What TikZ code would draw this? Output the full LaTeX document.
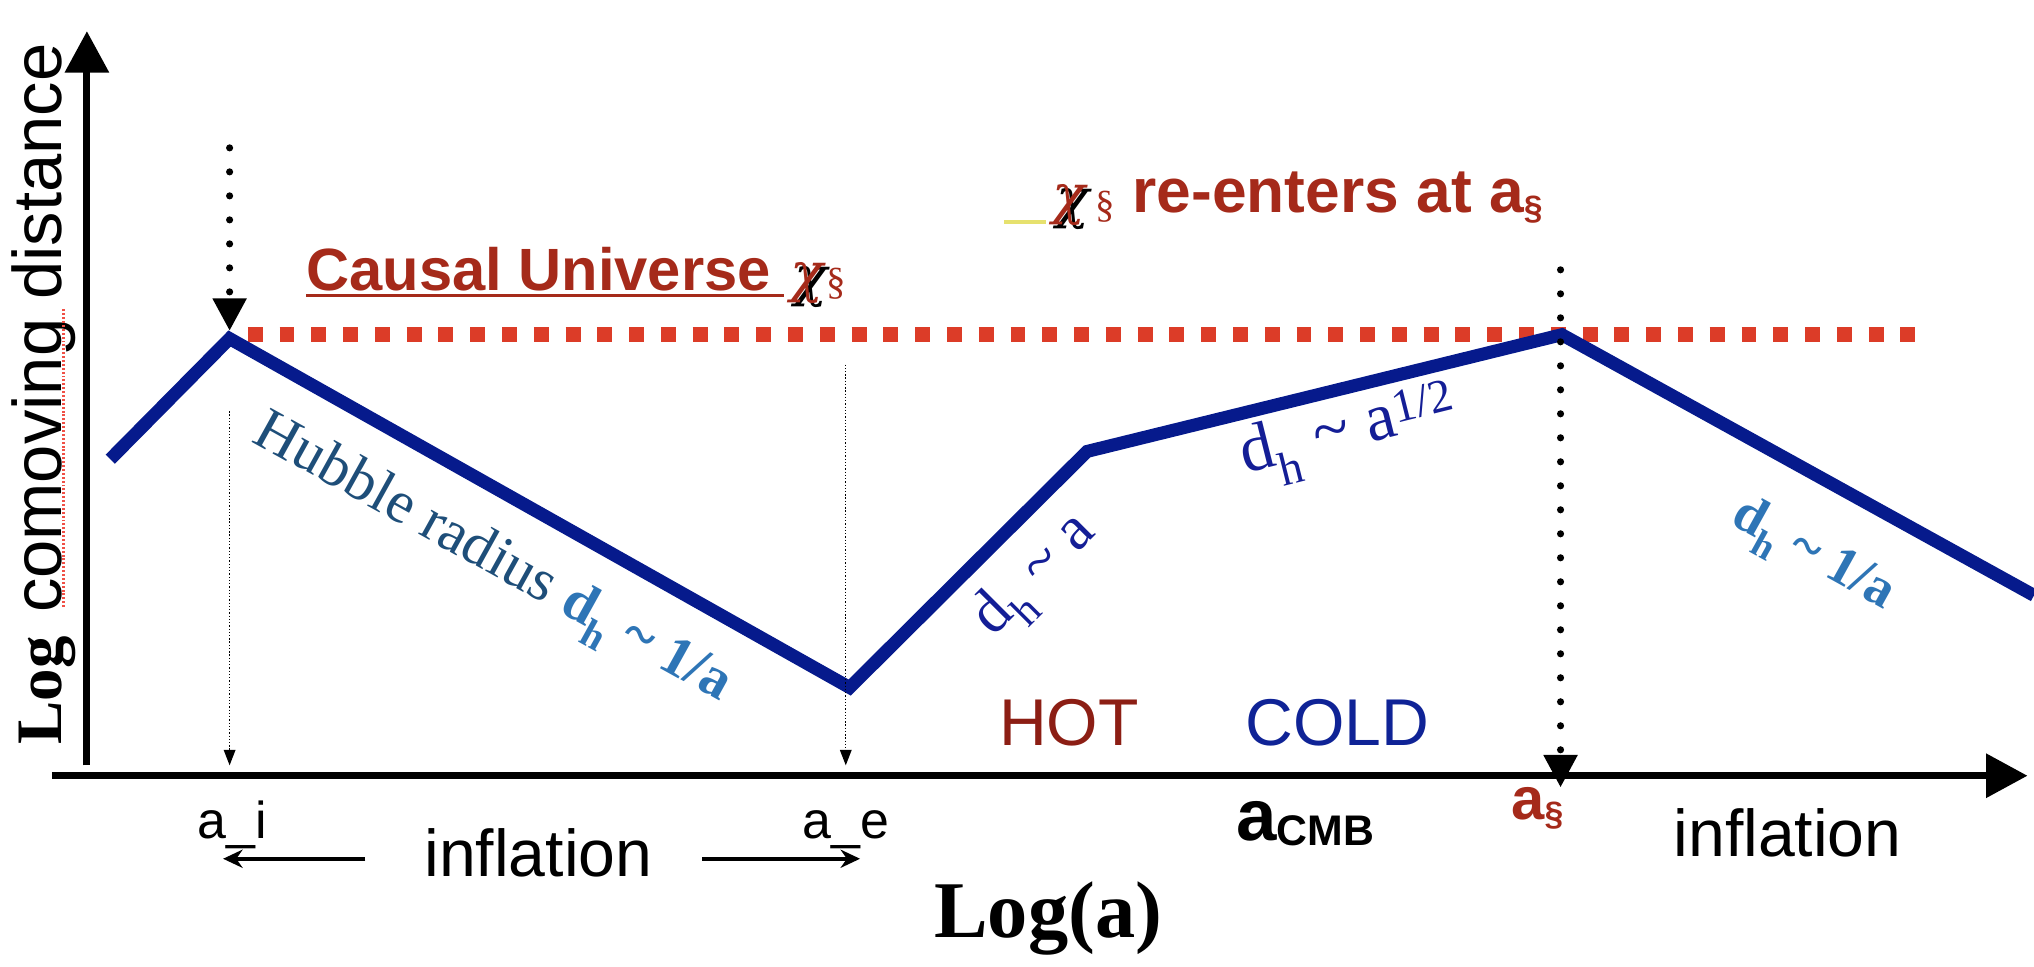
\documentclass[tikz,border=0pt]{standalone}
\usepackage{fontspec}
\setmainfont{Liberation Serif}
\setsansfont{Liberation Sans}
\newfontfamily\greekserif{DejaVu Serif}
\usetikzlibrary{arrows.meta}

\definecolor{hubnavy}{RGB}{6,26,140}
\definecolor{causalred}{RGB}{220,60,40}
\definecolor{titlered}{RGB}{165,42,26}
\definecolor{hotred}{RGB}{140,30,20}
\definecolor{coldblue}{RGB}{15,35,150}
\definecolor{hubtext}{RGB}{30,78,121}
\definecolor{brightblue}{RGB}{46,117,182}
\definecolor{lawnavy}{RGB}{20,30,150}
\definecolor{markyellow}{RGB}{230,225,110}
\definecolor{spellred}{RGB}{240,80,70}

\newcommand{\fs}[1]{\fontsize{#1}{#1}\selectfont}
\newcommand{\chisym}{{\greekserif\itshape χ}}

\begin{document}
\begin{tikzpicture}[x=1pt, y=-1pt,
    axis/.style={line width=5.5pt, -{Triangle[length=32pt,width=33pt]}},
    hubble/.style={line width=10pt, hubnavy},
    causal/.style={line width=11.5pt, causalred, dash pattern=on 11.5pt off 13pt},
    dotarrow/.style={line width=5.5pt, line cap=round, dash pattern=on 0pt off 18.5pt, -{Triangle[length=25pt,width=25pt]}},
    thindot/.style={line width=1pt, dash pattern=on 1pt off 1.5pt, -{Triangle[length=12pt,width=9pt]}},
    infarrow/.style={line width=3pt, -{Stealth[length=15pt,width=14pt]}},
    redlabel/.style={text=titlered, font=\sffamily\bfseries, inner sep=0pt}]
  \useasboundingbox (0,0) rectangle (1568,745);

  % causal universe and Hubble radius
  \draw[causal] (191,258) -- (1481,258);
  \coordinate (h0) at (85,354);
  \coordinate (hi) at (177,261);
  \coordinate (he) at (655,530);
  \coordinate (heq) at (838,348);
  \coordinate (hs) at (1204,258);
  \coordinate (h5) at (1568,459);
  \draw[hubble] (h0) -- (hi) -- (he) -- (heq) -- (hs) -- (h5);

  % markers
  \draw[dotarrow] (177,114) -- (177,255);
  \draw[dotarrow] (1203,208) -- (1203,607);
  \draw[thindot] (177,317) -- (177,590);
  \draw[thindot] (652,281) -- (652,590);

  % axes
  \draw[axis] (67,590) -- (67,24);
  \draw[axis] (40,598) -- (1563,598);
  \node[rotate=90, anchor=base west, inner sep=0pt] (ylab) at (47.5,574)
    {{\fs{50}\bfseries Log}\hspace{18pt}{\sffamily\fs{53}comoving distance}};
  \draw[spellred, line width=2pt, dash pattern=on 1.5pt off 1.5pt] (49,468) -- (49,237);
  \node[anchor=base] (xlab) at (808,723) {\fs{62}\bfseries Log(a)};

  % top labels
  \node[redlabel, anchor=base west] (causal) at (236,224) {\fs{46}Causal Universe};
  \coordinate (ulend) at (604,228);
  \draw[titlered, line width=2.5pt] ([yshift=-4pt]causal.base west) -- (ulend);
  \node[text=black] at (625,221) {\fs{42}\chisym};
  \node[text=titlered] (chia) at (622,218) {\fs{42}\chisym};
  \node[text=titlered] (seca) at (645,219) {\fs{30}§};

  \draw[markyellow, line width=3pt] (774,171) -- (806,171);
  \node[text=black] at (827,161) {\fs{42}\chisym};
  \node[text=titlered] (chib) at (824,158) {\fs{42}\chisym};
  \node[text=titlered] (secb) at (852,159) {\fs{30}§};
  \node[redlabel, anchor=base west] (reenter) at (873,164)
    {\fs{48}re-enters at a\raisebox{-5pt}{\fs{26}§}};

  % growth laws
  \node[rotate=-29] (hubtxt) at (379,432)
    {{\color{hubtext}\fs{46}Hubble radius }{\color{brightblue}\fs{44}\bfseries d\textsubscript{h} \textasciitilde{} 1/a}};
  \node[rotate=45, text=lawnavy] (lawhot) at (799,445) {\fs{48}d\textsubscript{h} \textasciitilde{} a};
  \node[rotate=14, text=lawnavy] (lawcold) at (1040,335)
    {\fs{52}d\textsubscript{h} \textasciitilde{} a\textsuperscript{1/2}};
  \node[rotate=-29, text=brightblue] (lawinf) at (1397,429)
    {\fs{42}\bfseries d\textsubscript{h} \textasciitilde{} 1/a};

  \node[text=hotred, font=\sffamily] (hot) at (824,557) {\fs{51}HOT};
  \node[text=coldblue, font=\sffamily] (cold) at (1031,557) {\fs{51}COLD};

  % scale factor labels
  \node[anchor=base, font=\sffamily] (ai) at (179,646) {\fs{40}a\_i};
  \node[anchor=base, font=\sffamily] (ae) at (652,646) {\fs{40}a\_e};
  \node[anchor=base, font=\sffamily] (infl) at (415,676) {\fs{51}inflation};
  \coordinate (ailow) at (172,662);
  \coordinate (aelow) at (663,662);
  \draw[infarrow, shorten <=42pt] (infl.west |- ailow) -- (ailow);
  \draw[infarrow, shorten <=35pt] (infl.east |- aelow) -- (aelow);
  \node[anchor=base west, font=\sffamily\bfseries, inner sep=0pt] (acmb) at (953,648)
    {\fs{56}a\raisebox{-3.5pt}{\fs{33}CMB}};
  \node[redlabel, anchor=base west] (asec) at (1165,632) {\fs{46}a\raisebox{-4pt}{\fs{26}§}};
  \node[anchor=base, font=\sffamily] (infr) at (1378,660) {\fs{51}inflation};
\end{tikzpicture}
\end{document}
